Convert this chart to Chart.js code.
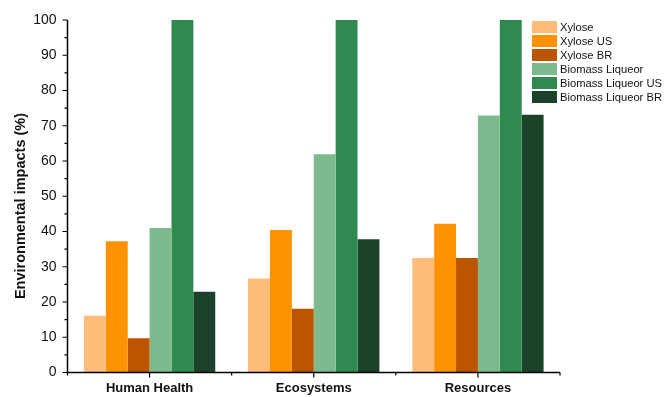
<!DOCTYPE html>
<html>
<head>
<meta charset="utf-8">
<script src="https://cdn.jsdelivr.net/npm/chart.js@4/dist/chart.umd.min.js"></script>
<style>
  html, body { margin: 0; padding: 0; background: #ffffff; }
  #wrap { width: 664px; height: 397px; position: relative; }
</style>
</head>
<body>
<div id="wrap"><canvas id="c" width="664" height="397"></canvas></div>
<script>
const categories = ['Human Health', 'Ecosystems', 'Resources'];
const seriesNames = ['Xylose', 'Xylose US', 'Xylose BR', 'Biomass Liqueor', 'Biomass Liqueor US', 'Biomass Liqueor BR'];
const xylose            = [16.1, 26.7, 32.5];
const xyloseUS          = [37.2, 40.4, 42.2];
const xyloseBR          = [9.7, 18.1, 32.5];
const biomassLiqueor    = [41.0, 61.9, 72.9];
const biomassLiqueorUS  = [100, 100, 100];
const biomassLiqueorBR  = [22.9, 37.8, 73.1];
const yTicks = [0, 10, 20, 30, 40, 50, 60, 70, 80, 90, 100];
const yTitle = 'Environmental impacts (%)';

const seriesValues = [xylose, xyloseUS, xyloseBR, biomassLiqueor, biomassLiqueorUS, biomassLiqueorBR];
const colors = ['#FFBC78', '#FF9200', '#BC5500', '#7DBB8F', '#2F8A4F', '#1B4329'];

const FONT = '"Liberation Sans", Arial, sans-serif';

// Side legend drawn to the right of the plot
const sideLegend = {
  id: 'sideLegend',
  afterDraw(chart) {
    const ctx = chart.ctx;
    ctx.save();
    ctx.font = '11.2px ' + FONT;
    ctx.textBaseline = 'middle';
    chart.data.datasets.forEach((ds, i) => {
      const y = 27 + i * 14;
      ctx.fillStyle = ds.backgroundColor;
      ctx.fillRect(532, y - 6, 25, 12);
      ctx.fillStyle = '#111111';
      ctx.fillText(ds.label, 560, y + 1);
    });
    ctx.restore();
  }
};

// Rotated y-axis title
const yAxisTitle = {
  id: 'yAxisTitle',
  afterDraw(chart) {
    const ctx = chart.ctx;
    ctx.save();
    ctx.translate(21, 206);
    ctx.rotate(-Math.PI / 2);
    ctx.font = 'bold 14.5px ' + FONT;
    ctx.fillStyle = '#111111';
    ctx.textAlign = 'center';
    ctx.textBaseline = 'middle';
    ctx.fillText(yTitle, 0, 0);
    ctx.restore();
  }
};

// Axis lines with outward major/minor ticks
const axisFrame = {
  id: 'axisFrame',
  afterDatasetsDraw(chart) {
    const ctx = chart.ctx;
    const ca = chart.chartArea;
    const ys = chart.scales.y;
    const xs = chart.scales.x;
    ctx.save();
    ctx.strokeStyle = '#000000';
    ctx.lineWidth = 1.5;
    ctx.beginPath();
    ctx.moveTo(ca.left, ca.top);
    ctx.lineTo(ca.left, ca.bottom);
    ctx.lineTo(ca.right, ca.bottom);
    ctx.stroke();
    ctx.lineWidth = 1.2;
    ctx.beginPath();
    for (let v = 0; v <= 100; v += 5) {
      const py = ys.getPixelForValue(v);
      const len = v % 10 === 0 ? 5 : 3;
      ctx.moveTo(ca.left, py);
      ctx.lineTo(ca.left - len, py);
    }
    const n = categories.length;
    for (let i = 0; i < n; i++) {
      const px = xs.getPixelForValue(i);
      ctx.moveTo(px, ca.bottom);
      ctx.lineTo(px, ca.bottom + 5);
    }
    for (let i = 0; i <= n; i++) {
      const px = xs.getPixelForValue(i - 0.5);
      ctx.moveTo(px, ca.bottom);
      ctx.lineTo(px, ca.bottom + 3);
    }
    ctx.stroke();
    ctx.restore();
  }
};

new Chart(document.getElementById('c'), {
  type: 'bar',
  data: {
    labels: categories,
    datasets: seriesNames.map((name, i) => ({
      label: name,
      data: seriesValues[i],
      backgroundColor: colors[i],
      borderWidth: 0,
      categoryPercentage: 0.8,
      barPercentage: 1.0
    }))
  },
  options: {
    responsive: false,
    animation: false,
    devicePixelRatio: 1,
    layout: { padding: { top: 20, right: 104, bottom: 0, left: 0 } },
    plugins: {
      legend: { display: false },
      tooltip: { enabled: false }
    },
    scales: {
      x: {
        grid: { display: false, drawTicks: false },
        border: { display: false },
        ticks: {
          color: '#111111',
          font: { family: FONT, size: 13, weight: 'bold' },
          padding: 8
        },
        afterFit(scale) { scale.height = 24.5; }
      },
      y: {
        min: 0,
        max: 100,
        afterBuildTicks(scale) { scale.ticks = yTicks.map(v => ({ value: v })); },
        grid: { display: false, drawTicks: false },
        border: { display: false },
        ticks: {
          color: '#111111',
          font: { family: FONT, size: 14 },
          padding: 11
        },
        afterFit(scale) { scale.width = 67.5; }
      }
    }
  },
  plugins: [axisFrame, sideLegend, yAxisTitle]
});
</script>
</body>
</html>
